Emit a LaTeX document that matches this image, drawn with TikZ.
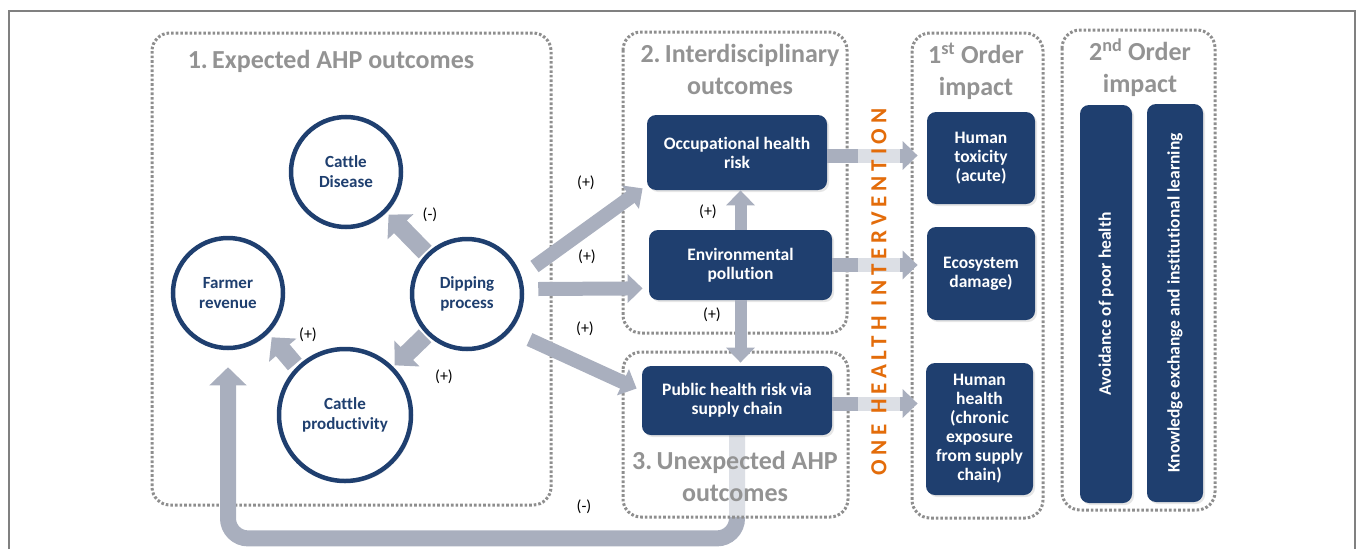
\documentclass[tikz,border=0pt]{standalone}
\usepackage{fontspec}
\setmainfont{Carlito}[Ligatures=NoCommon]
\usetikzlibrary{arrows.meta, positioning, calc, shadows, backgrounds}

\definecolor{ahpblue}{HTML}{1F3F6F}
\definecolor{arrowgray}{HTML}{A9AFBE}
\definecolor{dotgray}{HTML}{8E8E8E}
\definecolor{titlegray}{HTML}{939393}
\definecolor{framegray}{HTML}{808080}
\definecolor{ohorange}{HTML}{E36C0A}

\begin{document}
\begin{tikzpicture}[x=1pt, y=-1pt, thick]
        \tikzset{
            loopnode/.style={circle, draw=ahpblue, line width=4.5pt, fill=white, text=ahpblue, align=center, inner sep=0pt, minimum size=110pt, font=\fontsize{17}{20}\selectfont\bfseries, drop shadow={opacity=0.2, shadow xshift=2pt, shadow yshift=-2pt}},
            outcome/.style={rectangle, rounded corners=9pt, fill=ahpblue, text=white, align=center, inner sep=2pt, font=\fontsize{17.5}{19}\selectfont\bfseries, drop shadow={opacity=0.2, shadow xshift=2pt, shadow yshift=-2pt}},
            bar/.style={outcome, rotate=90, minimum width=398pt},
            grpbox/.style={draw=dotgray, line width=3pt, dash pattern=on 2.6pt off 2pt, rounded corners=18pt},
            grptitle/.style={text=titlegray, align=center, font=\fontsize{26}{32}\selectfont\bfseries},
            sign/.style={font=\fontsize{16}{18}\selectfont},
            flow/.style={draw=arrowgray, line width=14pt, -{Triangle[width=28pt,length=15pt]}},
            nub/.style={draw=arrowgray, line width=18pt, -{Triangle[width=35pt,length=17pt]}}
        }
        \useasboundingbox (0,0) rectangle (1357,549);

        % --- FRAMES ---
        \begin{scope}[on background layer]
            \draw[framegray, line width=1.2pt] (9,549) -- (9,11) -- (1355,11) -- (1355,549);
            \draw[grpbox] (152,33) rectangle (551,505);
            \draw[grpbox] (623,32) rectangle (847,333);
            \draw[grpbox] (912,33) rectangle (1043,518);
            \draw[grpbox] (1062,30) rectangle (1215,510);
        \end{scope}

        % --- TITLES ---
        \node[grptitle] (t1) at (331,61) {1.\,Expected AHP outcomes};
        \node[grptitle] (t2) at (740,69) {2.\,Interdisciplinary\\outcomes};
        \node[grptitle] (t3) at (735,476) {3.\,Unexpected AHP\\outcomes};
        \node[grptitle] (t4) at (976,71) {1\textsuperscript{st} Order\\impact};
        \node[grptitle] (t5) at (1140,68) {2\textsuperscript{nd} Order\\impact};

        % --- LOOP ---
        \node[loopnode] (dis) at (346,172) {Cattle\\Disease};
        \node[loopnode] (rev) at (228,293) {Farmer\\revenue};
        \node[loopnode] (dip) at (467,294) {Dipping\\process};
        \node[loopnode, minimum size=132pt] (prod) at (345,415) {Cattle\\productivity};

        % --- OUTCOMES ---
        \node[outcome, minimum width=180pt, minimum height=75pt] (occ) at (737,152.5) {Occupational health\\risk};
        \node[outcome, minimum width=183pt, minimum height=70pt] (env) at (740.5,265) {Environmental\\pollution};
        \node[outcome, minimum width=190pt, minimum height=69pt] (pub) at (737,400.5) {Public health risk via\\supply chain};

        % --- IMPACTS ---
        \node[outcome, minimum width=108pt, minimum height=92pt] (tox) at (981,158) {Human\\toxicity\\(acute)};
        \node[outcome, minimum width=108pt, minimum height=93pt] (eco) at (981,273.5) {Ecosystem\\damage)};
        \node[outcome, minimum width=107pt, minimum height=132pt] (hum) at (979.5,429) {Human\\health\\(chronic\\exposure\\from supply\\chain)};
        \node[bar, minimum height=52pt] (avd) at (1106,304) {Avoidance of poor health};
        \node[bar, minimum height=56pt] (kex) at (1175,303) {Knowledge exchange and institutional learning};

        % Arrows inside the loop
        \draw[nub, shorten <=2pt, shorten >=3pt] (dip.north west) -- (dis.south east);
        \draw[nub, shorten <=2pt, shorten >=2pt] (dip.south west) -- (prod.north east);
        \draw[nub, shorten <=3pt, shorten >=5pt] (prod.north west) -- (rev.south east);

        % Arrows out of the dipping process
        \draw[flow] ([shift={(27,13)}]dip.north east) -- ([shift={(-4,-2)}]occ.south west);
        \draw[flow] ([shift={(14,-5)}]dip.east) -- ([shift={(-6,-12)}]env.south west);
        \draw[flow] ([shift={(22,5)}]dip.south east) -- ([shift={(-5,-12)}]pub.west);

        % Arrows between outcomes
        \draw[flow, line width=12pt] (env.north) -- (env.north |- occ.south);
        \draw[flow, line width=12pt, shorten >=3pt] (env.south) -- (env.south |- pub.north);

        % Arrows to the impacts
        \coordinate (occout) at ([yshift=-3pt]occ.east);
        \coordinate (pubout) at ([yshift=-3pt]pub.east);
        \draw[flow] (occout) -- ([xshift=-9pt]tox.west |- occout);
        \draw[flow] (env.east) -- ([xshift=-9pt]eco.west |- env.east);
        \draw[flow] (pubout) -- ([xshift=-8pt]hum.west |- pubout);

        % Feedback to the farmer
        \begin{scope}[on background layer]
            \draw[flow, line width=16pt, -{Triangle[width=36pt,length=18pt]}, rounded corners=20pt, shorten >=17pt] (pub.south) -- ++(0,103) -| (rev.south);
            \draw[grpbox, fill=white, fill opacity=0.6] (623,352) rectangle (848,517);
        \end{scope}

        % --- ONE HEALTH ---
        \node[rotate=90, fill=white, fill opacity=0.6, text opacity=1, text=ohorange, inner sep=0pt, minimum width=390pt, minimum height=42pt, font=\fontsize{23}{23}\selectfont\bfseries\addfontfeature{LetterSpace=21}] (band) at (879,292) {ONE HEALTH INTERVENTION};

        % Signs
        \node[sign] (s1) at (430,215) {(-)};
        \node[sign] (s2) at (308,335) {(+)};
        \node[sign] (s3) at (444,377) {(+)};
        \node[sign] (s4) at (586,183) {(+)};
        \node[sign] (s5) at (587,257) {(+)};
        \node[sign] (s6) at (585,329) {(+)};
        \node[sign] (s7) at (708,212) {(+)};
        \node[sign] (s8) at (712,315) {(+)};
        \node[sign] (s9) at (584,507) {(-)};

    \end{tikzpicture}
\end{document}
